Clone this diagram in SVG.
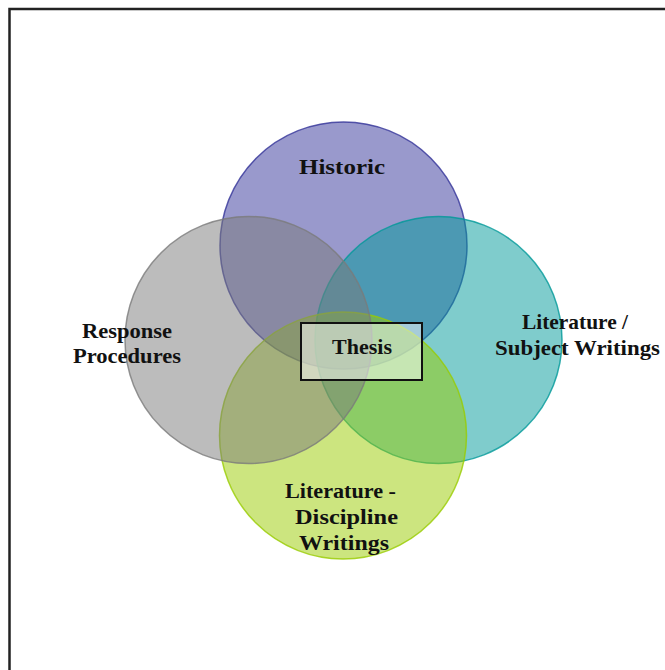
<svg xmlns="http://www.w3.org/2000/svg" width="665" height="670" viewBox="0 0 665 670">
<style>
.lbl{font-family:"Liberation Serif","Times New Roman",serif;font-weight:bold;font-size:21px;fill:#111}
.c{stroke-width:1.5}
</style>
<rect x="0" y="0" width="665" height="670" fill="#ffffff"/>
<rect x="9.5" y="9" width="720" height="720" fill="none" stroke="#222" stroke-width="2.5"/>
<g id="historic">
<circle class="c" cx="343.5" cy="245.5" r="123.5" fill="#333399" fill-opacity="0.5" stroke="#333399" stroke-opacity="0.8"/>
<text class="lbl" x="299" y="174" font-size="25" textLength="86" lengthAdjust="spacingAndGlyphs">Historic</text>
</g>
<g id="subject">
<circle class="c" cx="438.5" cy="340" r="123.5" fill="#009999" fill-opacity="0.5" stroke="#009999" stroke-opacity="0.8"/>
<text class="lbl" x="522" y="329" textLength="106" lengthAdjust="spacingAndGlyphs">Literature /</text>
<text class="lbl" x="495" y="355" textLength="165" lengthAdjust="spacingAndGlyphs">Subject Writings</text>
</g>
<g id="discipline">
<circle class="c" cx="343" cy="435.5" r="123.5" fill="#99cc00" fill-opacity="0.5" stroke="#99cc00" stroke-opacity="0.8"/>
<text class="lbl" x="285" y="498" textLength="111" lengthAdjust="spacingAndGlyphs">Literature -</text>
<text class="lbl" x="295" y="524" textLength="103" lengthAdjust="spacingAndGlyphs">Discipline</text>
<text class="lbl" x="299" y="550" textLength="90" lengthAdjust="spacingAndGlyphs">Writings</text>
</g>
<g id="response">
<circle class="c" cx="248.5" cy="340" r="123.5" fill="#7a7a7a" fill-opacity="0.5" stroke="#7a7a7a" stroke-opacity="0.8"/>
<text class="lbl" x="82" y="338" textLength="90" lengthAdjust="spacingAndGlyphs">Response</text>
<text class="lbl" x="73" y="363" textLength="108" lengthAdjust="spacingAndGlyphs">Procedures</text>
</g>
<g id="thesis">
<rect x="301" y="323" width="121" height="57" fill="#ffffff" fill-opacity="0.5" stroke="#111" stroke-width="2"/>
<text class="lbl" x="332" y="354" font-size="20" textLength="60" lengthAdjust="spacingAndGlyphs">Thesis</text>
</g>
<g id="connectors"></g>
</svg>
